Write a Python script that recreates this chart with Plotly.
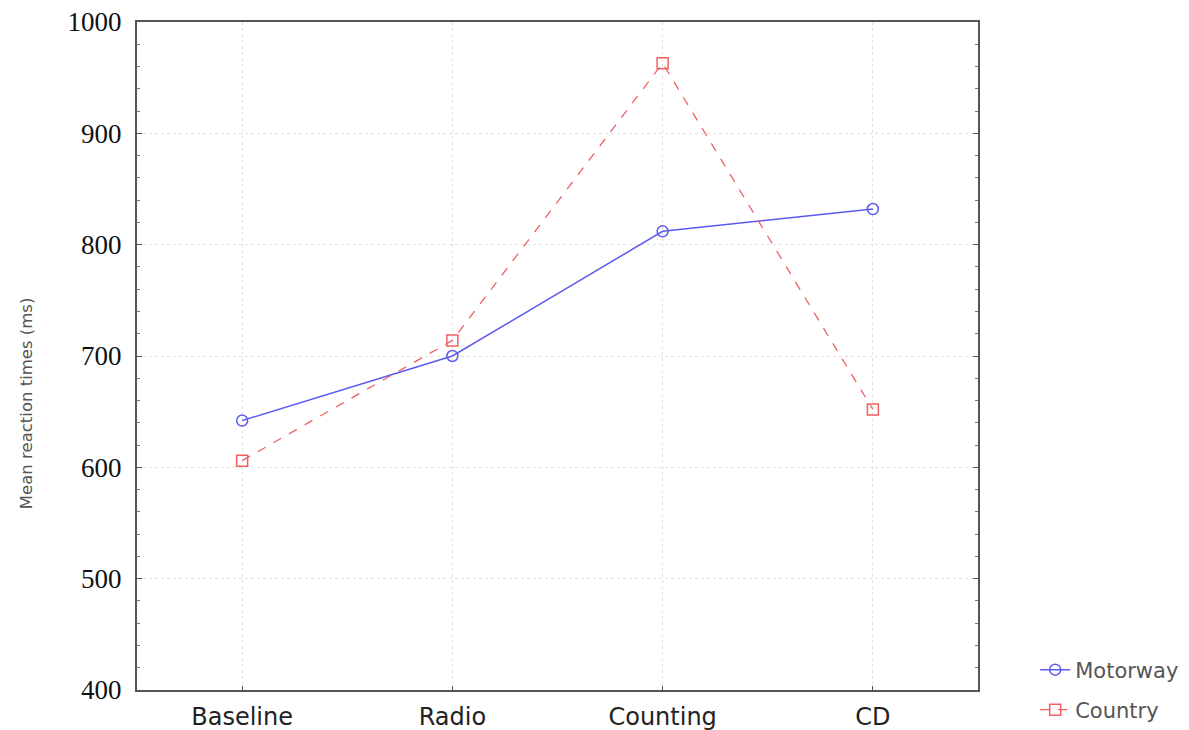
import plotly.graph_objects as go

categories = ["Baseline", "Radio", "Counting", "CD"]
motorway = [642, 700, 812, 832]
country = [606, 714, 963, 652]
y_ticks = [400, 500, 600, 700, 800, 900, 1000]

fig = go.Figure()
fig.add_trace(go.Scatter(
    x=list(range(len(categories))), y=motorway, name="Motorway",
    mode="lines+markers", legend="legend",
    line=dict(color="#5a5af0", width=1.5),
    marker=dict(symbol="circle-open", size=11, color="#5a5af0", line=dict(width=1.5)),
))
fig.add_trace(go.Scatter(
    x=list(range(len(categories))), y=country, name="Country",
    mode="lines+markers", legend="legend2",
    line=dict(color="#f06060", width=1.3, dash="dash"),
    marker=dict(symbol="square-open", size=11, color="#f06060", line=dict(width=1.5)),
))

legend_font = dict(family="DejaVu Sans", size=21, color="#555")
fig.update_layout(
    width=1189, height=730,
    margin=dict(l=129, r=219, t=14, b=48, autoexpand=False),
    paper_bgcolor="white", plot_bgcolor="white",
    showlegend=True,
    legend=dict(x=1.068, y=(690 - 670) / 668, xanchor="left", yanchor="middle",
                font=legend_font, bgcolor="rgba(0,0,0,0)"),
    legend2=dict(x=1.068, y=(690 - 710) / 668, xanchor="left", yanchor="middle",
                 font=legend_font, bgcolor="rgba(0,0,0,0)"),
    xaxis=dict(
        range=[-0.5, 3.5], automargin=False,
        tickmode="array", tickvals=list(range(len(categories))), ticktext=categories,
        showgrid=True, gridcolor="#e2e2e2", griddash="dot", gridwidth=1,
        showline=True, linecolor="#555", linewidth=2, mirror=True,
        ticks="inside", ticklen=4, tickcolor="#555",
        ticklabelstandoff=4, ticklabeloverflow="allow",
        tickfont=dict(family="DejaVu Sans", size=24, color="#222"),
        zeroline=False,
    ),
    yaxis=dict(
        range=[400, 1000], automargin=False,
        tickmode="array", tickvals=y_ticks,
        showgrid=True, gridcolor="#e2e2e2", griddash="dot", gridwidth=1,
        showline=True, linecolor="#555", linewidth=2, mirror="ticks",
        ticks="inside", ticklen=5, tickcolor="#555",
        minor=dict(dtick=20, ticks="inside", ticklen=3, tickcolor="#777", showgrid=False),
        ticklabelstandoff=8, ticklabeloverflow="allow",
        tickfont=dict(family="Liberation Serif", size=27, color="#111"),
        zeroline=False,
    ),
    annotations=[dict(
        text="Mean reaction times (ms)", textangle=-90, showarrow=False,
        xref="paper", yref="paper",
        x=(25 - 136) / 842, y=(690 - 404) / 668,
        xanchor="center", yanchor="middle",
        font=dict(family="DejaVu Sans", size=16.5, color="#555"),
    )],
)

fig.write_html("out.html")
